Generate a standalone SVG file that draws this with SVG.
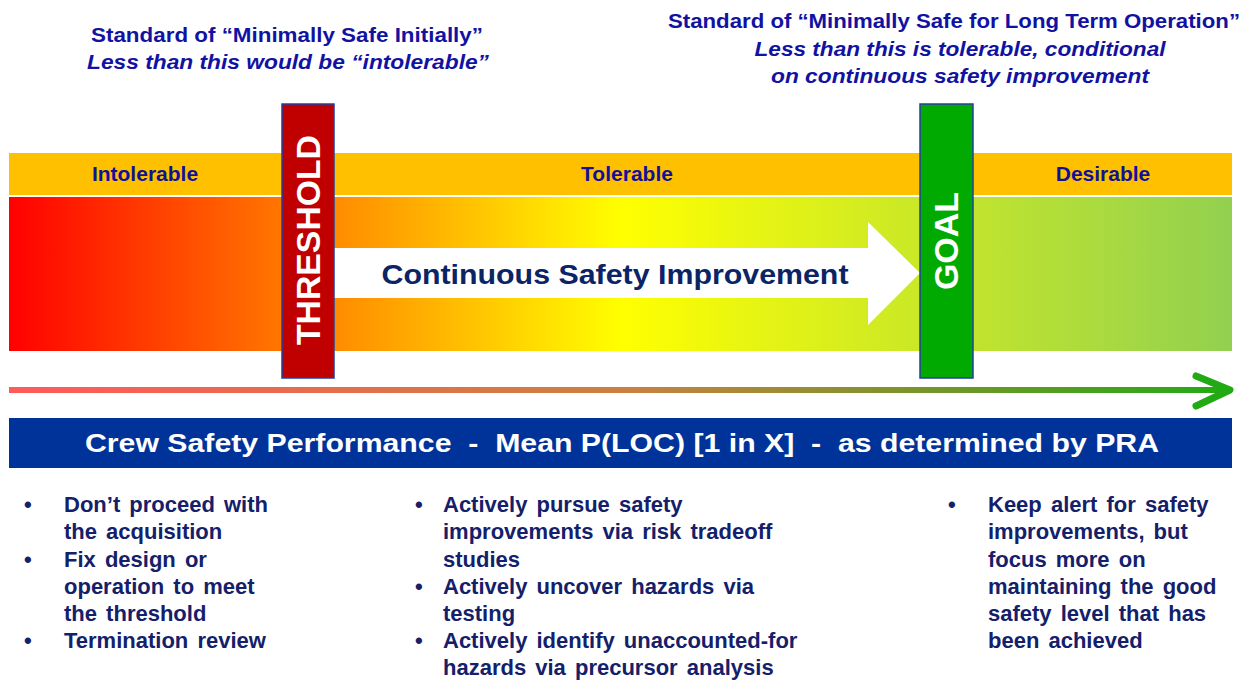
<svg xmlns="http://www.w3.org/2000/svg" width="1258" height="680" viewBox="0 0 1258 680">
<defs>
<linearGradient id="gBar" x1="0" y1="0" x2="1" y2="0">
<stop offset="0" stop-color="#FF0000"/>
<stop offset="0.22" stop-color="#FF7500"/>
<stop offset="0.5" stop-color="#FFFF00"/>
<stop offset="1" stop-color="#92D050"/>
</linearGradient>
<linearGradient id="gLine" x1="0" y1="0" x2="1" y2="0">
<stop offset="0" stop-color="#FF5A5A"/>
<stop offset="0.5" stop-color="#CC8040"/>
<stop offset="1" stop-color="#22AA14"/>
</linearGradient>
<style>
text{font-family:"Liberation Sans",Arial,sans-serif;font-weight:bold}
.head{font-size:21px;fill:#1212A2;text-anchor:middle}
.it{font-style:italic}
.band{font-size:21px;fill:#10109A;text-anchor:middle}
.bul{font-size:22px;fill:#14206A;word-spacing:3px}
.vert{font-size:34px;fill:#FFFFFF;text-anchor:middle}
.post{stroke:#2040A0;stroke-width:1.5}
</style>
</defs>

<g id="header-left">
<text class="head" x="287" y="42" textLength="392" lengthAdjust="spacingAndGlyphs">Standard of “Minimally  Safe Initially”</text>
<text class="head it" x="288" y="69" textLength="402" lengthAdjust="spacingAndGlyphs">Less than this would be “intolerable”</text>
</g>
<g id="header-right">
<text class="head" x="954" y="28" textLength="572" lengthAdjust="spacingAndGlyphs">Standard of “Minimally  Safe for Long Term Operation”</text>
<text class="head it" x="960" y="56" textLength="411" lengthAdjust="spacingAndGlyphs">Less than this is tolerable, conditional</text>
<text class="head it" x="960" y="83" textLength="378" lengthAdjust="spacingAndGlyphs">on continuous safety improvement</text>
</g>

<g id="zone-band">
<rect x="9" y="153" width="1223" height="42" fill="#FFC000"/>
<text class="band" x="145" y="181">Intolerable</text>
<text class="band" x="627" y="181">Tolerable</text>
<text class="band" x="1103" y="181">Desirable</text>
</g>

<g id="risk-bar">
<rect x="9" y="197" width="1223" height="154" fill="url(#gBar)"/>
<line x1="9" y1="196" x2="1232" y2="196" stroke="#FFFFFF" stroke-width="1.5"/>
</g>

<g id="improvement-arrow">
<polygon points="334,248 868,248 868,222 920,273 868,325 868,298 334,298" fill="#FFFFFF"/>
<text x="615" y="284" font-size="27" fill="#0A2466" text-anchor="middle" textLength="467" lengthAdjust="spacingAndGlyphs">Continuous Safety Improvement</text>
</g>

<g id="threshold">
<rect class="post" x="282" y="104" width="52" height="274" fill="#C00000"/>
<text class="vert" transform="translate(320,240) rotate(-90)" textLength="210" lengthAdjust="spacingAndGlyphs">THRESHOLD</text>
</g>

<g id="goal">
<rect class="post" x="920" y="104" width="53" height="274" fill="#00AA00"/>
<text class="vert" transform="translate(958,241) rotate(-90)">GOAL</text>
</g>

<g id="connectors">
<rect x="9" y="387" width="1220" height="6" fill="url(#gLine)"/>
<polyline points="1196,376 1230,390 1196,406" fill="none" stroke="#22AA14" stroke-width="7" stroke-linecap="round" stroke-linejoin="round"/>
</g>

<g id="performance-banner">
<rect x="9" y="418" width="1223" height="50" fill="#003399"/>
<text x="622" y="452" font-size="26" fill="#FFFFFF" text-anchor="middle" textLength="1074" lengthAdjust="spacingAndGlyphs" xml:space="preserve">Crew Safety Performance  -  Mean P(LOC) [1 in X]  -  as determined by PRA</text>
</g>

<g id="actions-intolerable">
<text class="bul" x="24" y="512">•</text>
<text class="bul" x="64" y="512">Don’t proceed with</text>
<text class="bul" x="64" y="539">the acquisition</text>
<text class="bul" x="24" y="567">•</text>
<text class="bul" x="64" y="567">Fix design or</text>
<text class="bul" x="64" y="594">operation to meet</text>
<text class="bul" x="64" y="621">the threshold</text>
<text class="bul" x="24" y="648">•</text>
<text class="bul" x="64" y="648">Termination review</text>
</g>

<g id="actions-tolerable">
<text class="bul" x="415" y="512">•</text>
<text class="bul" x="443" y="512">Actively pursue safety</text>
<text class="bul" x="443" y="539">improvements via risk tradeoff</text>
<text class="bul" x="443" y="567">studies</text>
<text class="bul" x="415" y="594">•</text>
<text class="bul" x="443" y="594">Actively uncover hazards via</text>
<text class="bul" x="443" y="621">testing</text>
<text class="bul" x="415" y="648">•</text>
<text class="bul" x="443" y="648">Actively identify unaccounted-for</text>
<text class="bul" x="443" y="675">hazards via precursor analysis</text>
</g>

<g id="actions-desirable">
<text class="bul" x="948" y="512">•</text>
<text class="bul" x="988" y="512">Keep alert for safety</text>
<text class="bul" x="988" y="539">improvements, but</text>
<text class="bul" x="988" y="567">focus more on</text>
<text class="bul" x="988" y="594">maintaining the good</text>
<text class="bul" x="988" y="621">safety level that has</text>
<text class="bul" x="988" y="648">been achieved</text>
</g>
</svg>
